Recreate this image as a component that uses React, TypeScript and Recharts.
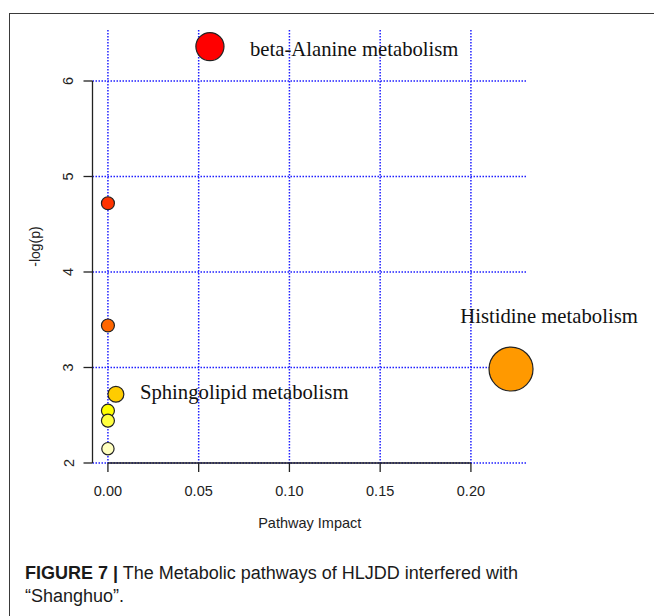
import React from 'react';
import {
  ScatterChart,
  Scatter,
  XAxis,
  YAxis,
  ZAxis,
  CartesianGrid,
  ReferenceLine,
  Cell,
  Label,
} from 'recharts';

// Pathway topology results: impact vs -log(p)
const pathwayNames = [
  'beta-Alanine metabolism',
  '',
  '',
  'Histidine metabolism',
  'Sphingolipid metabolism',
  '',
  '',
  '',
];
const pathwayImpact = [0.0562, 0, 0, 0.2221, 0.0044, 0, 0, 0];
const negLogP = [6.36, 4.72, 3.44, 2.984, 2.72, 2.548, 2.443, 2.15];
const bubbleSize = [4.7, 1, 1, 11.5, 1.5, 1, 1, 0.9];

const xTicks = [0, 0.05, 0.1, 0.15, 0.2];
const yTicks = [2, 3, 4, 5, 6];

// heat.colors(8), ordered by p-value
const heatColors = [
  '#FF0000',
  '#FF3300',
  '#FF6600',
  '#FF9900',
  '#FFCC00',
  '#FFFF00',
  '#FFFF40',
  '#FFFFBF',
];

const points = pathwayNames.map((name, i) => ({
  name,
  x: pathwayImpact[i],
  y: negLogP[i],
  z: bubbleSize[i],
}));

const xDomain: [number, number] = [-0.0085, 0.2309];
const yDomain: [number, number] = [2, 6.534];

// where each pathway name sits relative to its bubble
const labelPlacement: Record<string, { dx: number; dy: number; anchor: 'start' | 'middle' }> = {
  'beta-Alanine metabolism': { dx: 40, dy: 9, anchor: 'start' },
  'Histidine metabolism': { dx: 38, dy: -46, anchor: 'middle' },
  'Sphingolipid metabolism': { dx: 24, dy: 5, anchor: 'start' },
};

const sans = '"Liberation Sans", Arial, sans-serif';
const serif = '"Liberation Serif", "Times New Roman", serif';

const Bubble = (props: any) => {
  const { cx, cy, width, fill, payload } = props;
  const r = width / 2;
  const place = labelPlacement[payload.name];
  return (
    <g>
      <circle cx={cx} cy={cy} r={r} fill={fill} stroke="#222" strokeWidth={1.2} />
      {place && (
        <text
          x={cx + place.dx}
          y={cy + place.dy}
          textAnchor={place.anchor}
          fontFamily={serif}
          fontSize={20.7}
          fill="#111"
        >
          {payload.name}
        </text>
      )}
    </g>
  );
};

const YTick = (props: any) => {
  const { x, y, payload } = props;
  return (
    <text
      x={x}
      y={y}
      transform={`rotate(-90, ${x}, ${y})`}
      textAnchor="middle"
      fontFamily={sans}
      fontSize={14.5}
      fill="#222"
    >
      {payload.value}
    </text>
  );
};

export default function App() {
  return (
    <div style={{ position: 'absolute', left: 0, top: 0, width: 654, height: 616, background: '#fff', overflow: 'hidden' }}>
      {/* figure frame */}
      <div
        style={{
          position: 'absolute',
          left: 9,
          top: 13,
          width: 700,
          height: 700,
          borderTop: '1.5px solid #3a3a3a',
          borderLeft: '1.5px solid #3a3a3a',
        }}
      />
      <div style={{ position: 'absolute', left: 0, top: 0 }}>
        <ScatterChart width={654} height={616} margin={{ top: 30, right: 127, bottom: 83, left: 32.5 }}>
          <CartesianGrid
            stroke="#1f1fff"
            strokeWidth={1.5}
            strokeDasharray="1.5 1.5"
            syncWithTicks
          />
          <XAxis
            type="number"
            dataKey="x"
            domain={xDomain}
            ticks={xTicks}
            tickFormatter={(v: number) => v.toFixed(2)}
            axisLine={false}
            tickSize={9}
            tickMargin={14}
            tickLine={{ stroke: '#222', strokeWidth: 1.3 }}
            tick={{ fontFamily: sans, fontSize: 14.5, fill: '#222' }}
            height={70}
          >
            <Label
              value="Pathway Impact"
              position="insideBottom"
              offset={5}
              style={{ fontFamily: sans, fontSize: 14.5, fill: '#222' }}
            />
          </XAxis>
          <YAxis
            type="number"
            dataKey="y"
            domain={yDomain}
            ticks={yTicks}
            axisLine={false}
            tickSize={9}
            tickMargin={10}
            tickLine={{ stroke: '#222', strokeWidth: 1.3 }}
            tick={<YTick />}
            width={60}
          >
            <Label
              content={(p: any) => {
                const vb = p.viewBox || { x: 32.5, y: 30, height: 433 };
                const lx = vb.x + 2.5;
                const ly = vb.y + vb.height / 2;
                return (
                  <text
                    x={lx}
                    y={ly}
                    transform={`rotate(-90, ${lx}, ${ly})`}
                    textAnchor="middle"
                    dominantBaseline="central"
                    fontFamily={sans}
                    fontSize={14}
                    fill="#222"
                  >
                    -log(p)
                  </text>
                );
              }}
            />
          </YAxis>
          <ZAxis type="number" dataKey="z" domain={[0, 11.5]} range={[0, 1520]} />
          <ReferenceLine
            segment={[
              { x: 0, y: 2 },
              { x: 0.2, y: 2 },
            ]}
            stroke="#222"
            strokeWidth={1.5}
          />
          <ReferenceLine
            segment={[
              { x: xDomain[0], y: 2 },
              { x: xDomain[0], y: 6 },
            ]}
            stroke="#222"
            strokeWidth={1.3}
          />
          <Scatter data={points} shape={<Bubble />} isAnimationActive={false}>
            {points.map((p, i) => (
              <Cell key={p.name + i} fill={heatColors[i]} />
            ))}
          </Scatter>
        </ScatterChart>
      </div>
      <div
        style={{
          position: 'absolute',
          left: 25,
          top: 562,
          width: 620,
          fontFamily: sans,
          fontSize: 18,
          lineHeight: '23px',
          color: '#1a1a1a',
        }}
      >
        <b>FIGURE 7 |</b> The Metabolic pathways of HLJDD interfered with
        <br />
        “Shanghuo”.
      </div>
    </div>
  );
}
